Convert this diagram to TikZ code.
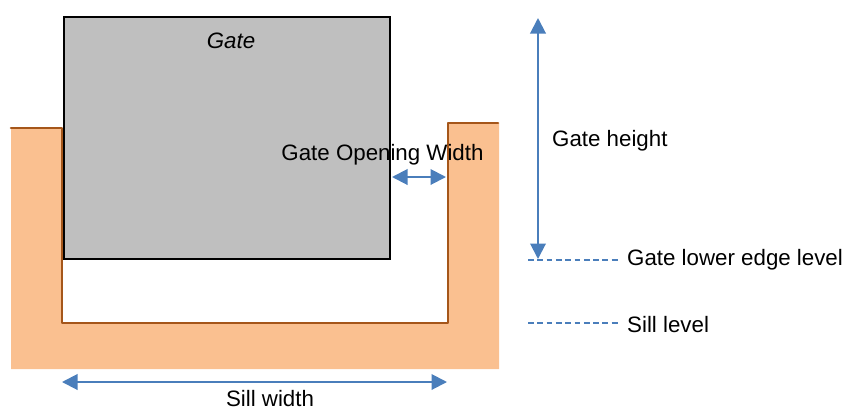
\documentclass[tikz,border=0pt]{standalone}
\usepackage{fontspec}
\setmainfont{Liberation Sans}
\usetikzlibrary{arrows.meta}
\definecolor{sillfill}{HTML}{FAC090}
\definecolor{sillline}{HTML}{A5561A}
\definecolor{gatefill}{HTML}{BFBFBF}
\definecolor{dimblue}{HTML}{4A7EBB}
\tikzset{
  lbl/.style={font=\fontsize{22.3}{26}\selectfont, text=black, inner sep=0pt},
  dim/.style={draw=dimblue, line width=2pt, {Triangle[width=15.5pt,length=15.5pt]}-{Triangle[width=15.5pt,length=15.5pt]}},
  lev/.style={draw=dimblue, line width=1.4pt, dash pattern=on 5.8pt off 3.5pt},
  sillb/.style={draw=sillline, line width=2.6pt, line cap=round, line join=round},
}
\begin{document}
\begin{tikzpicture}[x=1pt,y=-1pt]
\useasboundingbox (0,0) rectangle (846,408);
% sill body
\fill[sillfill] (11,128) -- (62,128) -- (62,323) -- (448,323) -- (448,123) -- (499,123) -- (499,369) -- (11,369) -- cycle;
\draw[sillb] (11,128) -- (62,128) -- (62,323) -- (448,323) -- (448,123) -- (498,123);
% gate
\node[draw=black, fill=gatefill, line width=2.6pt, minimum width=326pt, minimum height=242pt, inner sep=0pt, outer sep=0pt, anchor=north west] (gate) at (64,17) {};
\node[lbl, font=\fontsize{22.3}{26}\selectfont\itshape] (gatelabel) at (231,41) {Gate};
\node[lbl] (openlabel) at (382.5,154.5) {Gate Opening Width};
% dimension coordinates
\coordinate (gh1) at (538,18);
\coordinate (gh2) at (538,259);
\coordinate (op1) at (392,177);
\coordinate (op2) at (446,177);
\coordinate (sw1) at (62,382);
\coordinate (sw2) at (447,382);
\draw[dim] (gh1) -- (gh2);
\draw[dim] (op1) -- (op2);
\draw[dim] (sw1) -- (sw2);
\node[lbl, anchor=west] (ghlabel) at (552,141) {Gate height};
\node[lbl, anchor=west] (gelabel) at (627,260) {Gate lower edge level};
\node[lbl, anchor=west] (sllabel) at (627,325) {Sill level};
\node[lbl] (swlabel) at (270,399) {Sill width};
\coordinate (ge0) at (528,260);
\coordinate (ge1) at (620.5,260);
\coordinate (sl0) at (528,323);
\coordinate (sl1) at (620.5,323);
\draw[lev] (ge0) -- (ge1);
\draw[lev] (sl0) -- (sl1);
\end{tikzpicture}
\end{document}
